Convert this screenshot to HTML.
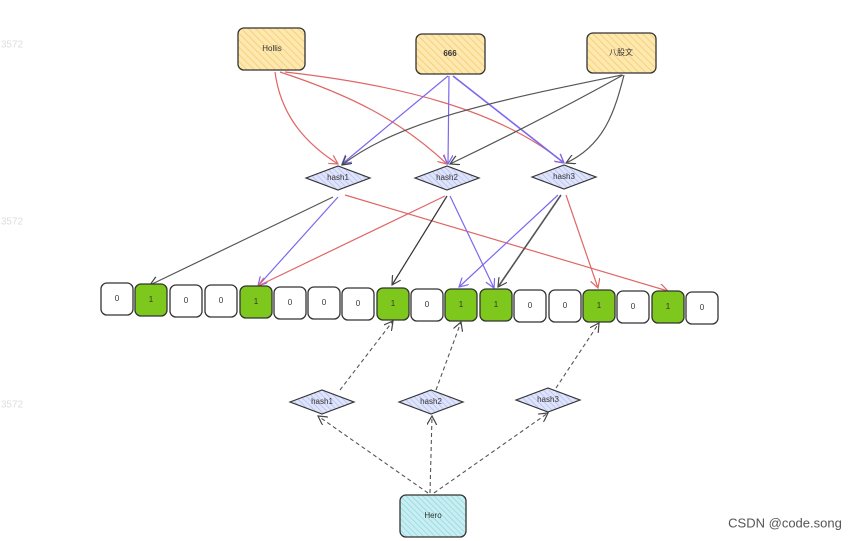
<!DOCTYPE html>
<html><head><meta charset="utf-8"><style>body{margin:0;background:#fff}svg{display:block}text{font-family:"Liberation Sans","Noto Sans CJK SC",sans-serif;font-size:8px;fill:#333;text-anchor:middle;dominant-baseline:middle}</style></head><body>
<svg width="862" height="541" viewBox="0 0 862 541">
<defs>
<pattern id="hy" width="5" height="5" patternUnits="userSpaceOnUse" patternTransform="rotate(-45)"><rect width="5" height="5" fill="#fde8b0"/><line x1="0" y1="0" x2="0" y2="5" stroke="#f5c96b" stroke-width="1.5"/></pattern>
<pattern id="hb" width="4" height="4" patternUnits="userSpaceOnUse" patternTransform="rotate(-45)"><rect width="4" height="4" fill="#dfe4fb"/><line x1="0" y1="0" x2="0" y2="4" stroke="#a9b6ee" stroke-width="1.2"/></pattern>
<pattern id="hc" width="4" height="4" patternUnits="userSpaceOnUse" patternTransform="rotate(-45)"><rect width="4" height="4" fill="#c9eef2"/><line x1="0" y1="0" x2="0" y2="4" stroke="#7fd3de" stroke-width="1.2"/></pattern>
<marker id="ar" markerWidth="10" markerHeight="10" refX="9" refY="5" orient="auto" markerUnits="userSpaceOnUse"><path d="M0,0 L9,5 L0,10" fill="none" stroke="#e06666" stroke-width="1.2"/></marker>
<marker id="ap" markerWidth="10" markerHeight="10" refX="9" refY="5" orient="auto" markerUnits="userSpaceOnUse"><path d="M0,0 L9,5 L0,10" fill="none" stroke="#7b68ee" stroke-width="1.2"/></marker>
<marker id="ak" markerWidth="10" markerHeight="10" refX="9" refY="5" orient="auto" markerUnits="userSpaceOnUse"><path d="M0,0 L9,5 L0,10" fill="none" stroke="#444" stroke-width="1.2"/></marker>
</defs>
<text x="12" y="45" style="fill:#ddd;font-size:10px">3572</text>
<text x="12" y="222" style="fill:#ddd;font-size:10px">3572</text>
<text x="12" y="405" style="fill:#ddd;font-size:10px">3572</text>
<g fill="none" stroke-width="1.2">
<path d="M275,72 C280,110 300,140 338,164" stroke="#e06666" marker-end="url(#ar)"/>
<path d="M280,72 C350,95 400,120 447,164" stroke="#e06666" marker-end="url(#ar)"/>
<path d="M285,72 C400,85 500,110 564,163" stroke="#e06666" marker-end="url(#ar)"/>
<path d="M448,76 L342,164" stroke="#7b68ee" marker-end="url(#ap)"/>
<path d="M449,76 L448,164" stroke="#7b68ee" marker-end="url(#ap)"/>
<path d="M453,76 L564,163" stroke="#7b68ee" stroke-width="1.6" marker-end="url(#ap)"/>
<path d="M622,75 C500,100 400,120 342,165" stroke="#555" marker-end="url(#ak)"/>
<path d="M623,75 C560,110 500,140 450,164" stroke="#555" marker-end="url(#ak)"/>
<path d="M624,75 C615,110 605,145 566,163" stroke="#555" marker-end="url(#ak)"/>
<path d="M333,197 L150,285" stroke="#555" marker-end="url(#ak)"/>
<path d="M338,197 L258,286" stroke="#7b68ee" marker-end="url(#ap)"/>
<path d="M345,195 L668,291" stroke="#e06666" marker-end="url(#ar)"/>
<path d="M445,196 L258,286" stroke="#e06666" marker-end="url(#ar)"/>
<path d="M447,196 L392,285" stroke="#333" marker-end="url(#ak)"/>
<path d="M450,196 L494,288" stroke="#7b68ee" marker-end="url(#ap)"/>
<path d="M558,195 L459,287" stroke="#7b68ee" marker-end="url(#ap)"/>
<path d="M561,195 L498,287" stroke="#555" stroke-width="1.6" marker-end="url(#ak)"/>
<path d="M566,195 L598,288" stroke="#e06666" marker-end="url(#ar)"/>
</g>
<rect x="238" y="28" width="67" height="42" rx="6" fill="url(#hy)" stroke="#333" stroke-width="1.3"/><text x="272" y="49">Hollis</text>
<rect x="416" y="34" width="69" height="40" rx="6" fill="url(#hy)" stroke="#333" stroke-width="1.3"/><text x="450" y="54" style="font-weight:bold">666</text>
<rect x="587" y="33" width="69" height="40" rx="6" fill="url(#hy)" stroke="#333" stroke-width="1.3"/><text x="621" y="53">八股文</text>
<g stroke="#333" stroke-width="1.2" fill="url(#hb)">
<path d="M306,178 L338,166 L370,178 L338,190 Z"/>
<path d="M415,178 L447,166 L479,178 L447,190 Z"/>
<path d="M532,177 L564,165 L596,177 L564,189 Z"/>
<path d="M290,402 L322,390 L354,402 L322,414 Z"/>
<path d="M399,402 L431,390 L463,402 L431,414 Z"/>
<path d="M516,400 L548,388 L580,400 L548,412 Z"/>
</g>
<text x="338" y="178">hash1</text><text x="447" y="178">hash2</text><text x="564" y="177">hash3</text>
<text x="322" y="402">hash1</text><text x="431" y="402">hash2</text><text x="548" y="400">hash3</text>
<g stroke="#333" stroke-width="1.3">
<rect x="101" y="283" width="32" height="32" rx="6" fill="#fff"/>
<rect x="135" y="284" width="32" height="32" rx="6" fill="#7ec81e"/>
<rect x="170" y="285" width="32" height="32" rx="6" fill="#fff"/>
<rect x="205" y="285" width="32" height="32" rx="6" fill="#fff"/>
<rect x="240" y="286" width="32" height="32" rx="6" fill="#7ec81e"/>
<rect x="274" y="287" width="32" height="32" rx="6" fill="#fff"/>
<rect x="308" y="287" width="32" height="32" rx="6" fill="#fff"/>
<rect x="342" y="288" width="32" height="32" rx="6" fill="#fff"/>
<rect x="377" y="288" width="32" height="32" rx="6" fill="#7ec81e"/>
<rect x="411" y="289" width="32" height="32" rx="6" fill="#fff"/>
<rect x="445" y="289" width="32" height="32" rx="6" fill="#7ec81e"/>
<rect x="480" y="289" width="32" height="32" rx="6" fill="#7ec81e"/>
<rect x="514" y="290" width="32" height="32" rx="6" fill="#fff"/>
<rect x="549" y="290" width="32" height="32" rx="6" fill="#fff"/>
<rect x="583" y="290" width="32" height="32" rx="6" fill="#7ec81e"/>
<rect x="617" y="291" width="32" height="32" rx="6" fill="#fff"/>
<rect x="652" y="291" width="32" height="32" rx="6" fill="#7ec81e"/>
<rect x="686" y="292" width="32" height="32" rx="6" fill="#fff"/>
</g>
<g>
<text x="117" y="299">0</text><text x="151" y="300">1</text><text x="186" y="301">0</text><text x="221" y="301">0</text><text x="256" y="302">1</text><text x="290" y="303">0</text><text x="324" y="303">0</text><text x="358" y="304">0</text><text x="393" y="304">1</text><text x="427" y="305">0</text><text x="461" y="305">1</text><text x="496" y="305">1</text><text x="530" y="306">0</text><text x="565" y="306">0</text><text x="599" y="306">1</text><text x="633" y="307">0</text><text x="668" y="307">1</text><text x="702" y="308">0</text>
</g>
<g fill="none" stroke="#555" stroke-width="1.1" stroke-dasharray="4,3">
<path d="M340,390 L393,321" marker-end="url(#ak)"/>
<path d="M436,390 L461,322" marker-end="url(#ak)"/>
<path d="M556,388 L599,323" marker-end="url(#ak)"/>
<path d="M428,493 L318,416" marker-end="url(#ak)"/>
<path d="M430,493 L432,416" marker-end="url(#ak)"/>
<path d="M434,493 L548,413" marker-end="url(#ak)"/>
</g>
<rect x="400" y="495" width="66" height="42" rx="6" fill="url(#hc)" stroke="#333" stroke-width="1.3"/><text x="433" y="516">Hero</text>
<text x="785" y="524" style="font-size:13px;fill:#555">CSDN @code.song</text>
</svg>
</body></html>
